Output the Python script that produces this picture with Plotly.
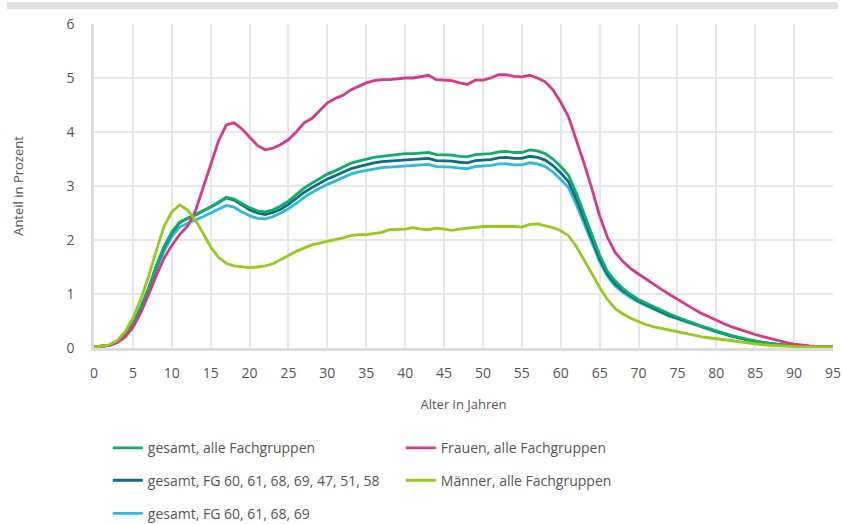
import plotly.graph_objects as go

ages = list(range(0, 96))

gesamt_alle = [0.02, 0.03, 0.05, 0.12, 0.25, 0.45, 0.75, 1.10, 1.52, 1.88,
               2.15, 2.33, 2.40, 2.46, 2.53, 2.61, 2.70, 2.79, 2.76, 2.68,
               2.60, 2.54, 2.52, 2.56, 2.63, 2.72, 2.84, 2.96, 3.05, 3.14,
               3.22, 3.28, 3.35, 3.42, 3.46, 3.50, 3.53, 3.55, 3.57, 3.58,
               3.60, 3.60, 3.61, 3.62, 3.58, 3.58, 3.57, 3.55, 3.54, 3.58,
               3.59, 3.60, 3.63, 3.64, 3.62, 3.62, 3.67, 3.65, 3.60, 3.50,
               3.36, 3.20, 2.87, 2.50, 2.10, 1.72, 1.42, 1.24, 1.10, 0.99,
               0.90, 0.83, 0.76, 0.69, 0.63, 0.57, 0.51, 0.46, 0.41, 0.36,
               0.31, 0.27, 0.23, 0.19, 0.16, 0.13, 0.10, 0.08, 0.06, 0.05,
               0.04, 0.03, 0.03, 0.03, 0.03, 0.03]

gesamt_fg7 = [0.02, 0.03, 0.05, 0.12, 0.25, 0.45, 0.74, 1.09, 1.50, 1.86,
              2.13, 2.32, 2.40, 2.46, 2.53, 2.61, 2.69, 2.78, 2.74, 2.65,
              2.56, 2.50, 2.47, 2.51, 2.57, 2.66, 2.77, 2.88, 2.97, 3.05,
              3.13, 3.19, 3.26, 3.32, 3.36, 3.40, 3.43, 3.45, 3.46, 3.47,
              3.49, 3.49, 3.50, 3.51, 3.47, 3.47, 3.46, 3.44, 3.43, 3.47,
              3.48, 3.49, 3.52, 3.53, 3.51, 3.51, 3.55, 3.53, 3.48, 3.38,
              3.24, 3.08, 2.76, 2.40, 2.02, 1.65, 1.37, 1.19, 1.06, 0.96,
              0.87, 0.80, 0.73, 0.66, 0.60, 0.55, 0.50, 0.45, 0.40, 0.35,
              0.30, 0.26, 0.22, 0.18, 0.15, 0.12, 0.10, 0.08, 0.06, 0.05,
              0.04, 0.03, 0.03, 0.03, 0.03, 0.03]

gesamt_fg4 = [0.02, 0.03, 0.05, 0.11, 0.23, 0.42, 0.70, 1.04, 1.44, 1.79,
              2.06, 2.24, 2.31, 2.37, 2.43, 2.50, 2.57, 2.64, 2.61, 2.52,
              2.45, 2.40, 2.39, 2.43, 2.50, 2.58, 2.68, 2.79, 2.88, 2.96,
              3.03, 3.09, 3.16, 3.22, 3.26, 3.29, 3.32, 3.34, 3.35, 3.36,
              3.38, 3.38, 3.39, 3.40, 3.36, 3.36, 3.35, 3.33, 3.32, 3.36,
              3.37, 3.38, 3.41, 3.41, 3.39, 3.39, 3.43, 3.41, 3.36, 3.26,
              3.12, 2.97, 2.66, 2.31, 1.95, 1.60, 1.33, 1.15, 1.03, 0.93,
              0.85, 0.78, 0.71, 0.65, 0.59, 0.54, 0.49, 0.44, 0.39, 0.34,
              0.30, 0.26, 0.22, 0.18, 0.15, 0.12, 0.10, 0.08, 0.06, 0.05,
              0.04, 0.03, 0.03, 0.03, 0.03, 0.03]

frauen = [0.02, 0.03, 0.05, 0.10, 0.20, 0.38, 0.65, 0.98, 1.34, 1.66,
          1.90, 2.10, 2.25, 2.52, 2.95, 3.40, 3.83, 4.13, 4.17, 4.06,
          3.90, 3.75, 3.67, 3.70, 3.77, 3.86, 4.00, 4.17, 4.25, 4.40,
          4.54, 4.62, 4.68, 4.78, 4.85, 4.91, 4.95, 4.97, 4.97, 4.99,
          5.00, 5.00, 5.02, 5.05, 4.97, 4.96, 4.95, 4.91, 4.88, 4.96,
          4.96, 5.00, 5.06, 5.06, 5.03, 5.02, 5.05, 5.00, 4.93, 4.78,
          4.55, 4.28, 3.87, 3.42, 2.95, 2.45, 2.05, 1.77, 1.60, 1.47,
          1.37, 1.27, 1.18, 1.08, 0.99, 0.90, 0.81, 0.73, 0.65, 0.58,
          0.51, 0.45, 0.39, 0.34, 0.29, 0.25, 0.21, 0.17, 0.13, 0.10,
          0.07, 0.05, 0.04, 0.03, 0.03, 0.03]

maenner = [0.02, 0.03, 0.06, 0.14, 0.30, 0.55, 0.90, 1.32, 1.80, 2.25,
           2.52, 2.65, 2.56, 2.38, 2.13, 1.87, 1.68, 1.57, 1.52, 1.50,
           1.49, 1.50, 1.52, 1.56, 1.64, 1.72, 1.79, 1.85, 1.91, 1.94,
           1.97, 2.01, 2.04, 2.08, 2.10, 2.10, 2.12, 2.14, 2.19, 2.19,
           2.20, 2.23, 2.20, 2.19, 2.22, 2.20, 2.18, 2.20, 2.22, 2.23,
           2.25, 2.25, 2.25, 2.26, 2.25, 2.24, 2.29, 2.30, 2.26, 2.23,
           2.17, 2.08, 1.88, 1.64, 1.38, 1.12, 0.90, 0.73, 0.63, 0.55,
           0.49, 0.43, 0.39, 0.36, 0.33, 0.29, 0.26, 0.23, 0.21, 0.19,
           0.17, 0.15, 0.13, 0.11, 0.09, 0.07, 0.06, 0.05, 0.04, 0.03,
           0.02, 0.02, 0.02, 0.02, 0.02, 0.02]

x_ticks = list(range(0, 96, 5))
y_ticks = [0, 1, 2, 3, 4, 5, 6]

FONT = "Open Sans"
TXT = "#555555"

series = [
    ("gesamt, FG 60, 61, 68, 69", gesamt_fg4, "#2cb9e1", "legend3"),
    ("gesamt, FG 60, 61, 68, 69, 47, 51, 58", gesamt_fg7, "#0b6d80", "legend2"),
    ("gesamt, alle Fachgruppen", gesamt_alle, "#0fae68", "legend"),
    ("Frauen, alle Fachgruppen", frauen, "#d6398b", "legend"),
    ("Männer, alle Fachgruppen", maenner, "#97c91b", "legend2"),
]

fig = go.Figure()
for name, vals, col, leg in series:
    fig.add_trace(go.Scatter(
        x=ages, y=vals, name=name, mode="lines",
        line=dict(color=col, width=2.8),
        legend=leg,
    ))

leg_common = dict(
    orientation="h", xanchor="left", yanchor="top",
    entrywidth=248, entrywidthmode="pixels",
    font=dict(family=FONT, size=14, color=TXT),
    bgcolor="rgba(0,0,0,0)", traceorder="normal",
    itemwidth=30,
)

LX = 0.0187
fig.update_layout(
    width=843, height=524,
    margin=dict(l=94, r=10, t=24, b=176, autoexpand=False),
    paper_bgcolor="white", plot_bgcolor="white",
    font=dict(family=FONT, size=14, color=TXT),
    showlegend=True,
    legend=dict(x=LX, y=-0.26, **leg_common),
    legend2=dict(x=LX, y=-0.36, **leg_common),
    legend3=dict(x=LX, y=-0.462, **leg_common),
    xaxis=dict(
        range=[0, 95], tickvals=x_ticks, ticktext=[str(t) for t in x_ticks],
        showgrid=True, gridcolor="#e6e6e6", gridwidth=1.5,
        showline=True, linecolor="#dcdcdc", linewidth=2.5,
        ticks="", ticklabelstandoff=10, ticklabeloverflow="allow",
        tickfont=dict(family=FONT, size=14, color=TXT),
        title=dict(text="Alter in Jahren", standoff=20,
                   font=dict(family=FONT, size=13, color=TXT)),
        zeroline=False, automargin=False,
    ),
    yaxis=dict(
        range=[0, 6], tickvals=y_ticks, ticktext=[str(t) for t in y_ticks],
        showgrid=True, gridcolor="#e6e6e6", gridwidth=1.5,
        showline=True, linecolor="#dcdcdc", linewidth=2.5,
        ticks="", ticklabelstandoff=14, ticklabeloverflow="allow",
        tickfont=dict(family=FONT, size=14, color=TXT),
        title=dict(text="Anteil in Prozent", standoff=40,
                   font=dict(family=FONT, size=13, color=TXT)),
        zeroline=False, automargin=False,
    ),
)

# grey header bar across the top
fig.add_shape(type="rect", xref="paper", yref="paper",
              x0=(7 - 94) / 739, x1=(838 - 94) / 739,
              y0=(348 - 9) / 324, y1=(348 - 2) / 324,
              fillcolor="#dedede", line=dict(width=0), layer="below")

fig.write_html("out.html",
               config={"displayModeBar": False},
               post_script="document.body.style.margin='0';")
